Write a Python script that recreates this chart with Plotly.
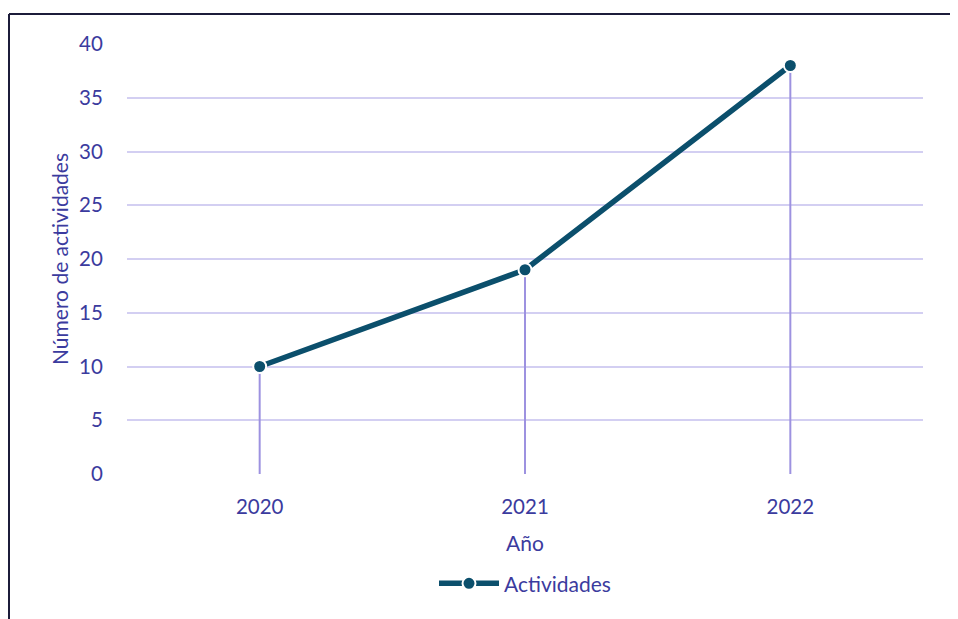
import plotly.graph_objects as go

years = ["2020", "2021", "2022"]
actividades = [10, 19, 38]
y_ticks = [0, 5, 10, 15, 20, 25, 30, 35, 40]

text_color = "#3b3b9e"
line_color = "#0b4f6c"
grid_color = "#d3cff2"
drop_color = "#9d92e0"
font_family = "Lato, 'Open Sans', sans-serif"

fig = go.Figure()

# drop lines from each point to the x axis
drop_x, drop_y = [], []
for yr, v in zip(years, actividades):
    drop_x += [yr, yr, None]
    drop_y += [0, v, None]
fig.add_trace(go.Scatter(x=drop_x, y=drop_y, mode="lines",
                         line=dict(color=drop_color, width=2),
                         showlegend=False, hoverinfo="skip"))

fig.add_trace(go.Scatter(x=years, y=actividades, mode="lines+markers",
                         name="Actividades",
                         line=dict(color=line_color, width=5.5),
                         marker=dict(size=13, color=line_color,
                                     line=dict(color="white", width=2))))

# page body has an 8px margin, so figure coords = screen coords - 8
W, H = 950, 611
l, r, t, b = 119, 35, 36, 145
pw, ph = W - l - r, H - t - b

fig.update_layout(
    width=W, height=H,
    margin=dict(l=l, r=r, t=t, b=b, pad=0),
    paper_bgcolor="white", plot_bgcolor="white",
    font=dict(family=font_family, size=21, color=text_color),
    showlegend=True,
    legend=dict(orientation="h", x=0.5, xanchor="center", y=-0.255, yanchor="middle",
                itemwidth=60, font=dict(size=21, color=text_color)),
    xaxis=dict(type="category", range=[-0.5, 2.5], showgrid=False,
               ticks="outside", ticklen=14, tickcolor="rgba(0,0,0,0)",
               tickfont=dict(size=20.5),
               title=dict(text="Año", standoff=19, font=dict(size=21)),
               zeroline=False, showline=False),
    yaxis=dict(range=[0, 40], tickvals=y_ticks, showgrid=True,
               gridcolor=grid_color, gridwidth=1.5,
               ticks="outside", ticklen=19, tickcolor="rgba(0,0,0,0)",
               tickfont=dict(size=20.5),
               title=dict(text="Número de actividades", standoff=4, font=dict(size=21)),
               zeroline=False, showline=False),
)

# chart border (left and top edges)
bx = (1 - l) / pw
by = 1 + (t - 6) / ph
fig.add_shape(type="line", xref="paper", yref="paper", x0=bx, x1=bx, y0=by, y1=-2,
              line=dict(color="#1c1c3a", width=2))
fig.add_shape(type="line", xref="paper", yref="paper", x0=bx, x1=2, y0=by, y1=by,
              line=dict(color="#1c1c3a", width=2))

fig.write_html("out.html")
